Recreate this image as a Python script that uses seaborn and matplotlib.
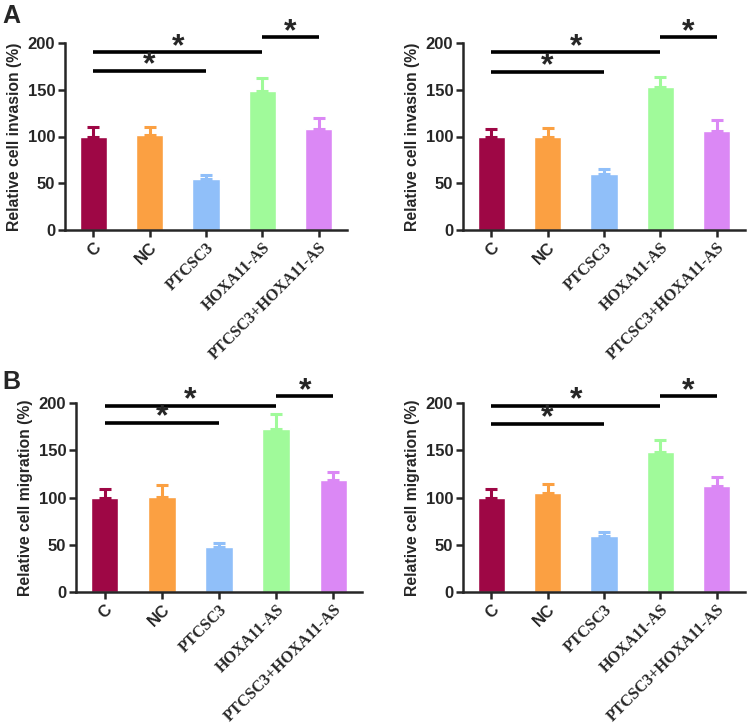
import numpy as np
import pandas as pd
import matplotlib
matplotlib.use("Agg")
import matplotlib.pyplot as plt
import seaborn as sns

groups = ["C", "NC", "PTCSC3", "HOXA11-AS", "PTCSC3+HOXA11-AS"]
colors = ["#9E0745", "#FBA042", "#90BFF9", "#A0FA9A", "#DB88F5"]

inv_left = [100, 102, 55, 149, 108]
inv_left_err = [10, 8, 4, 14, 12]
inv_right = [100, 99, 60, 153, 106]
inv_right_err = [8, 10, 5, 11, 12]
mig_left = [100, 101, 48, 172, 118]
mig_left_err = [9, 12, 4, 16, 9]
mig_right = [100, 105, 59, 148, 112]
mig_right_err = [9, 9, 5, 13, 10]

# significance brackets: (start group, end group, height)
sig_inv_left = [(0, 2, 170), (0, 3, 190), (3, 4, 206)]
sig_inv_right = [(0, 2, 169), (0, 3, 190), (3, 4, 206)]
sig_mig_left = [(0, 2, 179), (0, 3, 197), (3, 4, 207)]
sig_mig_right = [(0, 2, 178), (0, 3, 197), (3, 4, 207)]

sns.set_style("ticks")
plt.rcParams["font.family"] = ["Liberation Sans", "DejaVu Sans"]
plt.rcParams["font.weight"] = "bold"

fig = plt.figure(figsize=(7.5, 7.24), dpi=100)
W, H = 750, 724


def make_ax(x0, x1, y0, y1):
    return fig.add_axes([x0 / W, 1 - y1 / H, (x1 - x0) / W, (y1 - y0) / H])


def panel(ax, vals, errs, sigs, ylabel):
    df = pd.DataFrame({"group": groups, "value": vals, "err": errs})
    sns.barplot(data=df, x="group", y="value", hue="group", palette=colors,
                order=groups, hue_order=groups, dodge=False, legend=False,
                width=0.48, errorbar=None, ax=ax, saturation=1)
    for i, (v, e) in enumerate(zip(vals, errs)):
        ax.errorbar(i, v, yerr=[[0], [e]], color=colors[i], capsize=4,
                    elinewidth=2.2, capthick=2.2, zorder=1)
    for a, b, h in sigs:
        ax.plot([a, b], [h, h], color="black", lw=2.6, clip_on=False,
                solid_capstyle="butt")
        ax.annotate("*", xy=((a + b) / 2, h), xytext=(0, -1.8),
                    textcoords="offset points", ha="center", va="baseline",
                    fontsize=23, fontweight="bold", annotation_clip=False)
    ax.set_xlim(-0.5, 4.5)
    ax.set_ylim(0, 200)
    ax.set_yticks([0, 50, 100, 150, 200])
    ax.set_xlabel("")
    ax.set_ylabel(ylabel, fontsize=11.3, fontweight="bold", labelpad=4)
    ax.tick_params(axis="y", labelsize=12, width=1.8, length=5, pad=2)
    ax.tick_params(axis="x", width=1.8, length=5, pad=2)
    for lab in ax.get_yticklabels():
        lab.set_fontweight("bold")
    ax.set_xticks(range(len(groups)))
    ax.set_xticklabels(groups, rotation=45, ha="right", rotation_mode="anchor")
    for lab in ax.get_xticklabels():
        if lab.get_text() in ("C", "NC"):
            lab.set_family(["Liberation Sans"])
            lab.set_fontweight("bold")
            lab.set_fontsize(12)
        else:
            lab.set_family(["Liberation Serif"])
            lab.set_fontweight("bold")
            lab.set_fontsize(11.5)
    sns.despine(ax=ax)
    for s in ("left", "bottom"):
        ax.spines[s].set_linewidth(1.8)


ax1 = make_ax(65, 347, 43, 230)
ax2 = make_ax(463, 745, 43, 230)
ax3 = make_ax(76, 362, 403, 592)
ax4 = make_ax(463, 745, 403, 592)

panel(ax1, inv_left, inv_left_err, sig_inv_left, "Relative cell invasion (%)")
panel(ax2, inv_right, inv_right_err, sig_inv_right, "Relative cell invasion (%)")
panel(ax3, mig_left, mig_left_err, sig_mig_left, "Relative cell migration (%)")
panel(ax4, mig_right, mig_right_err, sig_mig_right, "Relative cell migration (%)")

fig.text(2 / W, 1 - 4 / H, "A", fontsize=18, fontweight="bold", va="top")
fig.text(2 / W, 1 - 370 / H, "B", fontsize=18, fontweight="bold", va="top")

fig.savefig("out.png", dpi=100)
